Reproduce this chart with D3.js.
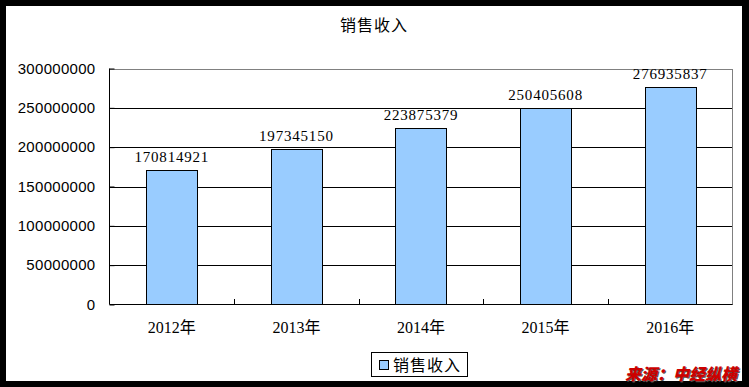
<!DOCTYPE html>
<html>
<head>
<meta charset="utf-8">
<script src="https://cdn.jsdelivr.net/npm/d3@7"></script>
<style>
  body { margin: 0; background: #000; }
  svg { display: block; }
  .ytick { font-family: "Liberation Sans", sans-serif; font-size: 15px; letter-spacing: 0.3px; fill: #000; }
  .xtick { font-family: "Liberation Serif", "Noto Sans CJK SC", serif; font-size: 16px; fill: #000; }
  .val { font-family: "Liberation Serif", serif; font-size: 15px; letter-spacing: 0.8px; fill: #000; }
  .cn { font-family: "Noto Sans CJK SC", sans-serif; font-size: 16px; letter-spacing: 1px; fill: #000; }
</style>
</head>
<body>
<div id="chart"></div>
<script>
// data
var years = ["2012年", "2013年", "2014年", "2015年", "2016年"];
var sales = [170814921, 197345150, 223875379, 250405608, 276935837];
var yTicks = [0, 50000000, 100000000, 150000000, 200000000, 250000000, 300000000];
var title = "销售收入";
var seriesName = "销售收入";
var source = "来源：中经纵横";

var width = 749;
var height = 387;
var barColor = "#99ccff";

var svg = d3.select("#chart").append("svg")
  .attr("width", width)
  .attr("height", height);

// white page inside the black frame
svg.append("rect")
  .attr("x", 6).attr("y", 6)
  .attr("width", 736).attr("height", 375)
  .attr("fill", "#fff");

/* scales */
var xScale = d3.scaleBand()
  .domain(years)
  .range([109.5, 732.5])
  .paddingInner(0.59)
  .paddingOuter(0.295);

var yScale = d3.scaleLinear()
  .domain([0, 300000000])
  .range([304.5, 68.5]);

// gridlines
svg.append("g")
  .selectAll("line")
  .data(yTicks.slice(1))
  .enter().append("line")
  .attr("x1", 109.5)
  .attr("x2", 732.5)
  .attr("y1", d => Math.round(yScale(d)) + 0.5)
  .attr("y2", d => Math.round(yScale(d)) + 0.5)
  .attr("stroke", d => d === 300000000 ? "#808080" : "#000")
  .attr("shape-rendering", "crispEdges");

// right border of plot
svg.append("line")
  .attr("x1", 732.5).attr("x2", 732.5)
  .attr("y1", 68.5).attr("y2", 304.5)
  .attr("stroke", "#808080")
  .attr("shape-rendering", "crispEdges");

// bars
svg.append("g")
  .selectAll("rect")
  .data(sales)
  .enter().append("rect")
  .attr("x", (d, i) => Math.round(xScale(years[i])) + 0.5)
  .attr("y", d => Math.round(yScale(d)) + 0.5)
  .attr("width", Math.round(xScale.bandwidth()))
  .attr("height", d => yScale(0) - Math.round(yScale(d)) - 0.5)
  .attr("fill", barColor)
  .attr("stroke", "#000")
  .attr("shape-rendering", "crispEdges");

// value labels
svg.append("g")
  .selectAll("text")
  .data(sales)
  .enter().append("text")
  .attr("class", "val")
  .attr("x", (d, i) => xScale(years[i]) + xScale.bandwidth() / 2)
  .attr("y", d => yScale(d) - 8)
  .attr("text-anchor", "middle")
  .text(d => d);

/* axes */
var yAxis = d3.axisLeft(yScale)
  .tickValues(yTicks)
  .tickSize(-5)
  .tickPadding(14)
  .tickFormat(d => d);

svg.append("g")
  .attr("transform", "translate(109.5,0)")
  .call(yAxis)
  .call(g => g.select(".domain").attr("stroke", "#000").attr("d", "M0,68.5V304.5"))
  .call(g => g.selectAll(".tick text").attr("class", "ytick").attr("font-size", null).attr("font-family", null))
  .call(g => g.selectAll(".tick line").attr("stroke", "#000"));

// category boundaries for x ticks
var step = xScale.step();
var xBoundaries = d3.range(1, years.length).map(i => 109.5 + step * i);

var xAxisGroup = svg.append("g");
xAxisGroup.append("line")
  .attr("x1", 109.5).attr("x2", 732.5)
  .attr("y1", 304.5).attr("y2", 304.5)
  .attr("stroke", "#000");
xAxisGroup.selectAll(".xt")
  .data(xBoundaries)
  .enter().append("line")
  .attr("x1", d => Math.round(d) + 0.5)
  .attr("x2", d => Math.round(d) + 0.5)
  .attr("y1", 299)
  .attr("y2", 304.5)
  .attr("stroke", "#000");
xAxisGroup.selectAll("text")
  .data(years)
  .enter().append("text")
  .attr("class", "xtick")
  .attr("x", d => xScale(d) + xScale.bandwidth() / 2)
  .attr("y", 333)
  .attr("text-anchor", "middle")
  .text(d => d);

// title
svg.append("text")
  .attr("class", "cn")
  .attr("x", 374)
  .attr("y", 31)
  .attr("text-anchor", "middle")
  .text(title);

// legend
var legend = svg.append("g");
legend.append("rect")
  .attr("x", 371.5).attr("y", 352.5)
  .attr("width", 96).attr("height", 24)
  .attr("fill", "#fff")
  .attr("stroke", "#000");
legend.append("rect")
  .attr("x", 379.5).attr("y", 360.5)
  .attr("width", 9).attr("height", 9)
  .attr("fill", barColor)
  .attr("stroke", "#000");
legend.append("text")
  .attr("class", "cn")
  .attr("x", 393)
  .attr("y", 371)
  .text(seriesName);

// source note
svg.append("text")
  .attr("x", 625)
  .attr("y", 380)
  .attr("font-family", "Noto Sans CJK SC, sans-serif")
  .attr("font-size", "16px")
  .attr("font-weight", "900")
  .attr("font-style", "italic")
  .attr("fill", "#cc0000")
  .style("text-shadow", "1px 1px 0 #555")
  .text(source);
</script>
</body>
</html>
